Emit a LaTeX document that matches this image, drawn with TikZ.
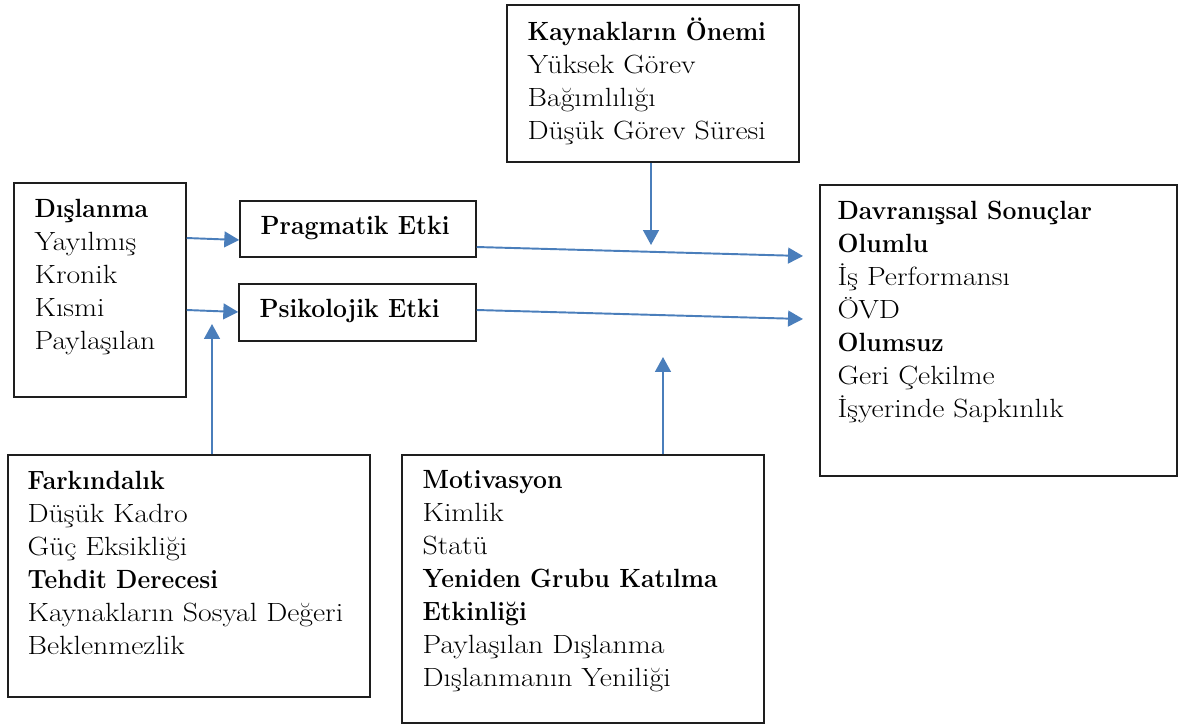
\documentclass[tikz,border=0pt]{standalone}
\usepackage{fontspec}
\setmainfont{Latin Modern Roman}[FakeStretch=1.13, BoldFeatures={FakeStretch=0.94}]
\usetikzlibrary{arrows.meta,fit}
\definecolor{linkblue}{HTML}{4A7EBB}
\definecolor{frame}{HTML}{1E1E1E}
\tikzset{
  box/.style={draw=frame, line width=0.85pt, inner sep=0pt, fill=none},
  txt/.style={anchor=north west, inner sep=0pt, align=left,
    font=\fontsize{15}{18.8}\selectfont},
  link/.style={draw=linkblue, line width=1.1pt,
    -{Triangle[length=8.5pt,width=9pt]}},
}
\begin{document}
\begin{tikzpicture}[x=0.02cm, y=-0.02cm]
\useasboundingbox (0,0) rectangle (1178,725);

% frames
\node[box, fit={(14,183) (186,397)}] (dis) {};
\node[box, fit={(240,201) (476,257)}] (prag) {};
\node[box, fit={(239,284) (476,341)}] (psi) {};
\node[box, fit={(507,5) (799,162)}] (kay) {};
\node[box, fit={(820,185) (1177,476)}] (dav) {};
\node[box, fit={(8,455) (370,697)}] (fark) {};
\node[box, fit={(402,455) (764,723)}] (mot) {};

% contents
\node[txt] (tdis) at ([shift={(21,12)}]dis.north west)
  {\strut\textbf{Dışlanma}\\ Yayılmış\\ Kronik\\ Kısmi\\ Paylaşılan};
\node[txt] (tprag) at ([shift={(21,11)}]prag.north west)
  {\strut\textbf{Pragmatik Etki}};
\node[txt] (tpsi) at ([shift={(21,11)}]psi.north west)
  {\strut\textbf{Psikolojik Etki}};
\node[txt] (tkay) at ([shift={(21,13)}]kay.north west)
  {\strut\textbf{Kaynakların Önemi}\\ Yüksek Görev\\ Bağımlılığı\\ Düşük Görev Süresi};
\node[txt] (tdav) at ([shift={(18,12)}]dav.north west)
  {\strut\textbf{Davranışsal Sonuçlar}\\ \textbf{Olumlu}\\ İş Performansı\\ ÖVD\\
   \textbf{Olumsuz}\\ Geri Çekilme\\ İşyerinde Sapkınlık};
\node[txt] (tfark) at ([shift={(20,12)}]fark.north west)
  {\strut\textbf{Farkındalık}\\ Düşük Kadro\\ Güç Eksikliği\\ \textbf{Tehdit Derecesi}\\
   Kaynakların Sosyal Değeri\\ Beklenmezlik};
\node[txt] (tmot) at ([shift={(21,11)}]mot.north west)
  {\strut\textbf{Motivasyon}\\ Kimlik\\ Statü\\ \textbf{Yeniden Grubu Katılma}\\
   \textbf{Etkinliği}\\ Paylaşılan Dışlanma\\ Dışlanmanın Yeniliği};

% free ends of the moderator arrows
\coordinate (kaytip) at (651,245);
\coordinate (farktip) at (212,324);
\coordinate (mottip) at (663,357);
\coordinate (davtop) at (803,256);
\coordinate (davbot) at (803,319);

% connectors
\draw[link] (dis.east |- 0,238) -- (prag.west |- 0,240);
\draw[link] (dis.east |- 0,310) -- (psi.west |- 0,312);
\draw[link] (prag.east |- 0,247) -- (davtop);
\draw[link] (psi.east |- 0,310) -- (davbot);
\draw[link] (kay.south -| kaytip) -- (kaytip);
\draw[link] (fark.north -| farktip) -- (farktip);
\draw[link] (mot.north -| mottip) -- (mottip);
\end{tikzpicture}
\end{document}
